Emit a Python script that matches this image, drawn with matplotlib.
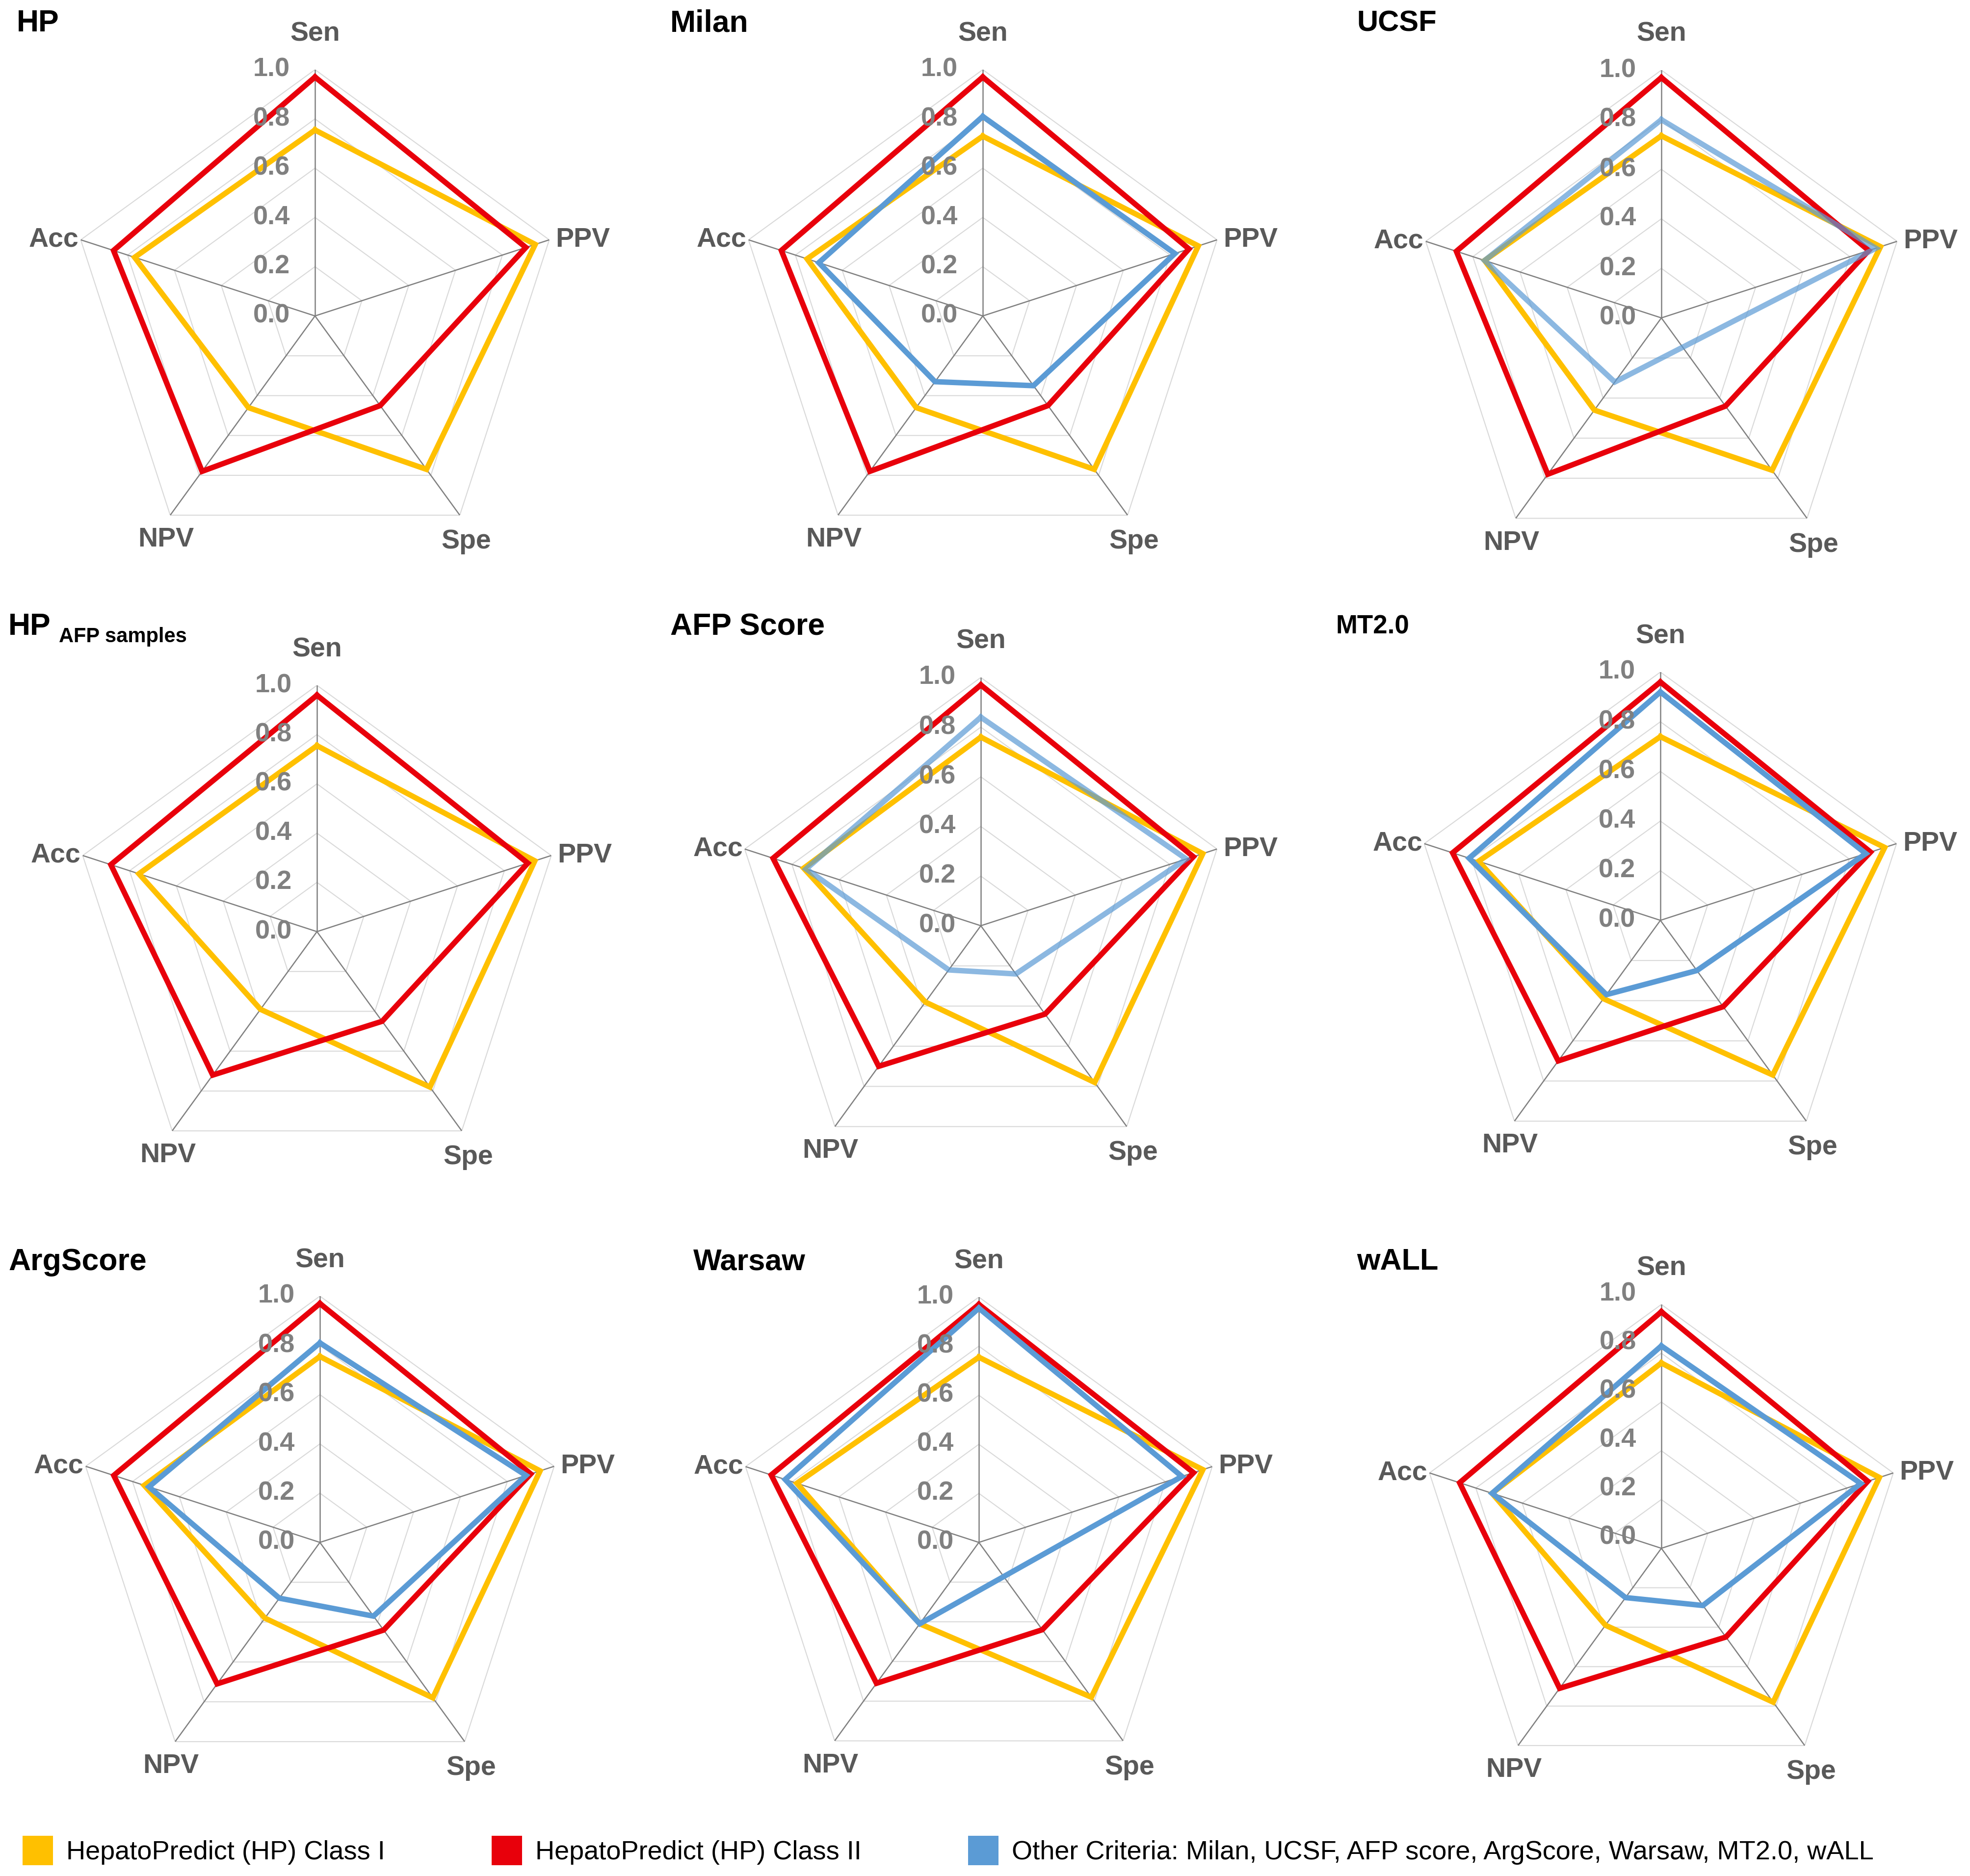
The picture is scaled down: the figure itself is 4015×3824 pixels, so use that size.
import numpy as np
import matplotlib
matplotlib.use("Agg")
import matplotlib.pyplot as plt
from matplotlib.patches import Patch

plt.rcParams['font.family'] = ['Liberation Sans', 'DejaVu Sans']

metrics = ["Sen", "PPV", "Spe", "NPV", "Acc"]
titles = ["HP", "Milan", "UCSF", "HP AFP samples", "AFP Score", "MT2.0",
          "ArgScore", "Warsaw", "wALL"]

# HepatoPredict Class I (yellow), per panel, in metric order
class1 = [
    [0.755, 0.94, 0.77, 0.46, 0.77],
    [0.73, 0.92, 0.77, 0.46, 0.75],
    [0.735, 0.93, 0.76, 0.46, 0.75],
    [0.755, 0.93, 0.78, 0.39, 0.76],
    [0.76, 0.94, 0.78, 0.38, 0.75],
    [0.74, 0.95, 0.77, 0.39, 0.77],
    [0.755, 0.94, 0.78, 0.38, 0.75],
    [0.755, 0.96, 0.78, 0.41, 0.78],
    [0.76, 0.94, 0.78, 0.39, 0.73],
]
# HepatoPredict Class II (red)
class2 = [
    [0.97, 0.90, 0.45, 0.78, 0.86],
    [0.97, 0.88, 0.45, 0.78, 0.86],
    [0.97, 0.88, 0.44, 0.78, 0.87],
    [0.96, 0.90, 0.45, 0.72, 0.88],
    [0.97, 0.90, 0.44, 0.70, 0.88],
    [0.96, 0.89, 0.43, 0.70, 0.88],
    [0.97, 0.90, 0.44, 0.71, 0.88],
    [0.97, 0.92, 0.44, 0.71, 0.89],
    [0.97, 0.89, 0.45, 0.71, 0.87],
]
# other criteria (blue), None = not drawn, nan = missing point
nan = np.nan
other = [
    None,
    [0.81, 0.82, 0.35, 0.33, 0.70],
    [0.80, 0.91, nan, 0.32, 0.75],
    None,
    [0.84, 0.87, 0.24, 0.22, 0.74],
    [0.92, 0.87, 0.25, 0.37, 0.81],
    [0.81, 0.88, 0.37, 0.28, 0.73],
    [0.955, 0.87, nan, 0.41, 0.83],
    [0.83, 0.86, 0.29, 0.25, 0.73],
]
other_alpha = [1, 1, 0.7, 1, 0.7, 1, 1, 1, 1]
ticks = [0.0, 0.2, 0.4, 0.6, 0.8, 1.0]

# layout in pixels: panel centre and radius of the r=1 pentagon
W, H = 4015, 3824
centers = [(642, 644), (2003, 644), (3386, 648),
           (646, 1899), (1999, 1887), (3384, 1876),
           (652, 3144), (1995, 3144), (3386, 3156)]
radius = [502, 502, 505, 502, 506, 506, 502, 500, 497]
tick_shift = [0, 0, 0, 0, 0, 0, 0, 0, 22]
title_pos = [(34, 48), (1366, 48), (2765, 48),
             (17, 1278), (1366, 1278), (2723, 1278),
             (17, 2573), (1413, 2573), (2765, 2573)]
title_size = [45, 45, 43, 45, 45, 38, 45, 44, 44]

YELLOW = '#FFC000'
RED = '#E8000B'
BLUE = '#5B9BD5'
GRID = '#D9D9D9'
SPOKE = '#808080'
TICKC = '#808080'
LABC = '#595959'

fig = plt.figure(figsize=(W / 100, H / 100), dpi=100)

theta = np.arange(5) * 2 * np.pi / 5
label_off = [(0, 73, 'center'), (13, 0, 'left'), (13, -54, 'center'),
             (-9, -50, 'center'), (-4, 0, 'right')]


def closed(vals):
    vals = np.asarray(vals, dtype=float)
    keep = ~np.isnan(vals)
    t = theta[keep]
    v = vals[keep]
    return np.append(t, t[0]), np.append(v, v[0])


for i in range(9):
    cx, cy = centers[i]
    r = radius[i]
    ax = fig.add_axes([(cx - r) / W, (H - cy - r) / H, 2 * r / W, 2 * r / H],
                      projection='polar')
    ax.set_aspect('auto')
    ax.set_theta_offset(np.pi / 2)
    ax.set_theta_direction(-1)
    ax.set_ylim(0, 1)
    ax.grid(False)
    ax.set_xticks([])
    ax.set_yticks([])
    ax.spines['polar'].set_visible(False)
    ax.patch.set_visible(False)

    for lev in ticks[1:]:
        t, v = closed([lev] * 5)
        ax.plot(t, v, color=GRID, lw=1.5, zorder=1)
    for t in theta:
        ax.plot([t, t], [0, 1], color=SPOKE, lw=1.8, zorder=2)

    t, v = closed(class1[i])
    ax.plot(t, v, color=YELLOW, lw=8, zorder=3, solid_joinstyle='miter')
    t, v = closed(class2[i])
    ax.plot(t, v, color=RED, lw=8, zorder=4, solid_joinstyle='miter')
    if other[i] is not None:
        t, v = closed(other[i])
        ax.plot(t, v, color=BLUE, lw=8, alpha=other_alpha[i], zorder=5,
                solid_joinstyle='miter')

    for tk in ticks:
        ax.annotate(f"{tk:.1f}", xy=(0, tk), xytext=(-51, tick_shift[i]),
                    textcoords='offset pixels', ha='right', va='center',
                    fontsize=39, fontweight='bold', color=TICKC, zorder=6)
    for k, m in enumerate(metrics):
        dx, dy, ha = label_off[k]
        ax.annotate(m, xy=(theta[k], 1), xytext=(dx, dy),
                    textcoords='offset pixels', ha=ha, va='center',
                    fontsize=40, fontweight='bold', color=LABC)

    tx, ty = title_pos[i]
    if titles[i] == "HP AFP samples":
        fig.text(tx / W, 1 - ty / H, "HP", fontsize=45, fontweight='bold',
                 ha='left', va='center', color='black')
        fig.text(120 / W, 1 - 1298 / H, "AFP samples", fontsize=30,
                 fontweight='bold', ha='left', va='center', color='black')
    else:
        fig.text(tx / W, 1 - ty / H, titles[i], fontsize=title_size[i],
                 fontweight='bold', ha='left', va='center', color='black')

handles = [Patch(facecolor=YELLOW, edgecolor='none'),
           Patch(facecolor=RED, edgecolor='none'),
           Patch(facecolor=BLUE, edgecolor='none')]
legend_labels = ["HepatoPredict (HP) Class I", "HepatoPredict (HP) Class II",
                 "Other Criteria: Milan, UCSF, AFP score, ArgScore, Warsaw, MT2.0, wALL"]
fig.legend(handles, legend_labels, loc='center left',
           bbox_to_anchor=(46 / W, 1 - 3772 / H), ncol=3, frameon=False,
           fontsize=39, handlelength=1.15, handleheight=1.3, handletextpad=0.5,
           columnspacing=4.0, borderpad=0, borderaxespad=0)

fig.savefig("out.png", dpi=100, facecolor='white')
